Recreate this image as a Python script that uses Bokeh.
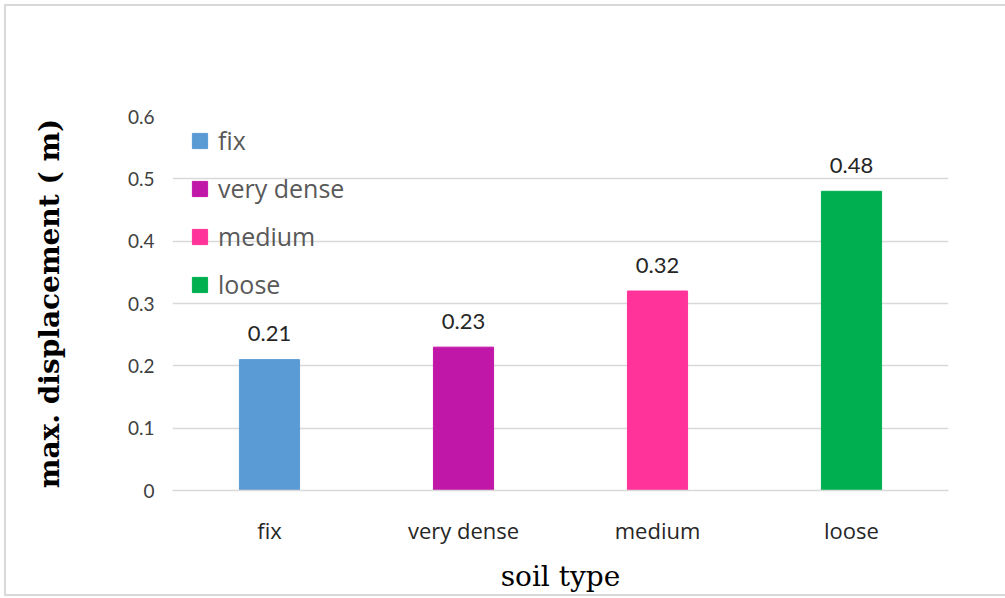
from bokeh.plotting import figure
from bokeh.models import ColumnDataSource, Range1d, FixedTicker, NumeralTickFormatter
from bokeh.embed import file_html
from bokeh.resources import INLINE

# Maximum displacement per soil type
soil_types = ["fix", "very dense", "medium", "loose"]
max_displacement = [0.21, 0.23, 0.32, 0.48]
bar_colors = ["#5B9BD5", "#C117A8", "#FF3399", "#00B050"]
y_ticks = [0, 0.1, 0.2, 0.3, 0.4, 0.5, 0.6]

source = ColumnDataSource(dict(
    soil=soil_types,
    disp=max_displacement,
    color=bar_colors,
    label=[f"{v:.2f}" for v in max_displacement],
))

p = figure(
    x_range=soil_types,
    y_range=Range1d(0, 0.6),
    width=1005, height=598,
    output_backend="svg", toolbar_location=None,
    min_border_left=172, min_border_right=57,
    min_border_top=116, min_border_bottom=108,
)
# thin grey frame on the top, left and bottom of the chart
# (painted behind the transparent border area)
p.styles = {
    "background-color": "white",
    "box-shadow": ("inset 0 4px 0 0 white, inset 4px 0 0 0 white, inset 0 -2px 0 0 white, "
                   "inset 0 6px 0 0 #d9d9d9, inset 6px 0 0 0 #d9d9d9, inset 0 -4px 0 0 #d9d9d9"),
    "font-variant-ligatures": "none",
    "font-feature-settings": "\"liga\" 0, \"clig\" 0",
}
p.outline_line_color = None
p.background_fill_color = "white"
p.border_fill_alpha = 0

p.vbar(x="soil", top="disp", width=0.31, color="color", source=source,
       legend_field="soil")

p.text(x="soil", y="disp", text="label", source=source,
       text_align="center", text_baseline="middle", y_offset=-26,
       text_font={"value": "Lato"}, text_font_size="22px", text_color="#262626")

# grid and axes
p.xgrid.grid_line_color = None
p.ygrid.grid_line_color = "#d9d9d9"
p.ygrid.grid_line_width = 1.5

p.yaxis.ticker = FixedTicker(ticks=y_ticks)
p.yaxis.formatter = NumeralTickFormatter(format="0.[0]")
p.yaxis.axis_line_color = None
p.yaxis.major_tick_line_color = None
p.yaxis.minor_tick_line_color = None
p.yaxis.major_label_text_font = "Lato"
p.yaxis.major_label_text_font_size = "19px"
p.yaxis.major_label_text_color = "#404040"
p.yaxis.major_label_standoff = 12
p.yaxis.axis_label = "max. displacement ( m)"
p.yaxis.axis_label_text_font = "DejaVu Serif"
p.yaxis.axis_label_text_font_style = "bold"
p.yaxis.axis_label_text_font_size = "28px"
p.yaxis.axis_label_text_color = "#000000"
p.yaxis.axis_label_standoff = 59

p.xaxis.axis_line_color = "#d9d9d9"
p.xaxis.axis_line_width = 1.5
p.xaxis.major_tick_line_color = None
p.xaxis.minor_tick_line_color = None
p.xaxis.major_label_text_font = "Open Sans"
p.xaxis.major_label_text_font_size = "22px"
p.xaxis.major_label_text_color = "#262626"
p.xaxis.major_label_standoff = 18
p.xaxis.axis_label = "soil type"
p.xaxis.axis_label_text_font = "DejaVu Serif"
p.xaxis.axis_label_text_font_style = "normal"
p.xaxis.axis_label_text_font_size = "28px"
p.xaxis.axis_label_text_color = "#000000"
p.xaxis.axis_label_standoff = 12

# legend
lg = p.legend[0]
lg.location = (18, 189)
lg.margin = 0
lg.padding = 10
lg.border_line_color = None
lg.background_fill_alpha = 0
lg.glyph_width = 19
lg.glyph_height = 19
lg.label_height = 19
lg.label_standoff = 9
lg.spacing = 14
lg.label_text_font = "Open Sans"
lg.label_text_font_size = "25px"
lg.label_text_color = "#595959"

open("out.html", "w").write(file_html(p, INLINE))
